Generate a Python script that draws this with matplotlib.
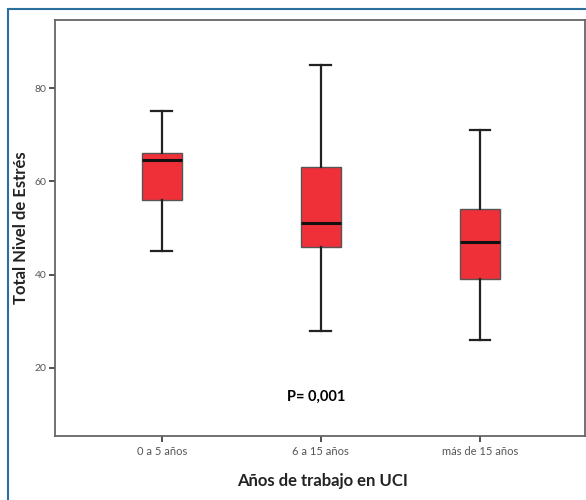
import matplotlib
matplotlib.use("Agg")
import matplotlib.pyplot as plt
from matplotlib.patches import Rectangle

# data
groups = ["0 a 5 años", "6 a 15 años", "más de 15 años"]
whislo = [45, 28, 26]
q1 = [56, 46, 39]
med = [64.5, 51, 47]
q3 = [66, 63, 54]
whishi = [75, 85, 71]
y_ticks = [20, 40, 60, 80]
p_text = "P= 0,001"

plt.rcParams["font.family"] = ["Lato", "DejaVu Sans"]

fig = plt.figure(figsize=(5.86, 5.0), dpi=100)
W, H = 586, 500
ax = fig.add_axes([55 / W, 1 - 436 / H, 530 / W, 416 / H])

stats = []
for i, g in enumerate(groups):
    stats.append(dict(label=g, whislo=whislo[i], q1=q1[i], med=med[i],
                      q3=q3[i], whishi=whishi[i], fliers=[]))

ax.bxp(stats, positions=[1, 2, 3], widths=0.25, patch_artist=True,
       showfliers=False,
       boxprops=dict(facecolor="#ef3039", edgecolor="#555555", linewidth=1.0),
       medianprops=dict(color="#111111", linewidth=2.2),
       whiskerprops=dict(color="#222222", linewidth=1.6),
       capprops=dict(color="#222222", linewidth=1.6),
       capwidths=0.13)

ax.set_xlim(0.33, 3.66)
ax.set_ylim(5.4, 94.6)
ax.set_yticks(y_ticks)
ax.set_xticks([1, 2, 3])
ax.set_xticklabels(groups)
ax.tick_params(axis="both", labelsize=8, colors="#333333", length=4, width=1.2,
               labelcolor="#555555")
ax.tick_params(axis="y", pad=2, labelsize=7.5)
for s in ax.spines.values():
    s.set_color("#666666")
    s.set_linewidth(1.3)

ax.text(1.97, 13.8, p_text, ha="center", va="center", fontsize=10.5, fontweight="bold")

fig.text(21 / W, 1 - 228 / H, "Total Nivel de Estrés", rotation=90, ha="center",
         va="center", fontsize=12, fontweight="bold", color="#222222")
fig.text(323 / W, 1 - 481 / H, "Años de trabajo en UCI", ha="center", va="center",
         fontsize=12, fontweight="bold", color="#222222")

# blue frame around the panel
frame = Rectangle((7.5 / W, -0.1), 1.2, 1 - 9 / H + 0.1, transform=fig.transFigure,
                  fill=False, edgecolor="#2a6f9e", linewidth=1.5, clip_on=False)
fig.patches.append(frame)

fig.savefig("out.png", dpi=100)
